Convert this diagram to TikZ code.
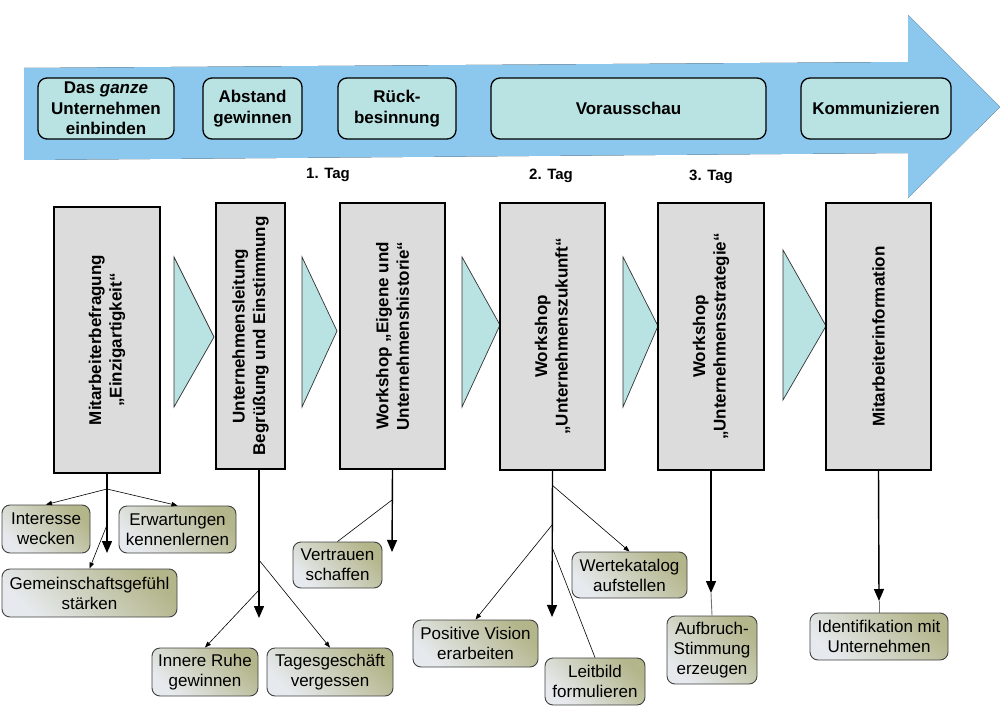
\documentclass[tikz,border=0pt]{standalone}
\usepackage{fontspec}
\setmainfont{Liberation Sans}
\usetikzlibrary{arrows.meta}
\definecolor{arrowblue}{HTML}{8CC8EE}
\definecolor{arrowlight}{HTML}{C0E4E9}
\definecolor{phasecyan}{HTML}{B9E2E2}
\definecolor{stepgray}{HTML}{DCDCDC}
\definecolor{goalolive}{HTML}{B3B58A}
\definecolor{goallight}{HTML}{E6EAEE}

\begin{document}
\begin{tikzpicture}[x=1pt, y=-1pt,
		phase/.style={draw=black, line width=1.3pt, fill=phasecyan, rounded corners=9pt, align=center, inner sep=0pt, font=\fontsize{17}{20.5}\selectfont\bfseries},
		stepbox/.style={draw=black, line width=1.3pt, fill=stepgray, inner sep=0pt},
		steptext/.style={rotate=90, align=center, inner sep=0pt, font=\fontsize{17}{20.5}\selectfont\bfseries},
		goal/.style={draw=black!75, line width=0.9pt, top color=goalolive, bottom color=goallight, shading angle=-45, rounded corners=8pt, align=center, inner sep=0pt, font=\fontsize{17}{20}\selectfont},
		day/.style={font=\fontsize{15}{18}\selectfont\bfseries},
		chevron/.style={draw=black!80, line width=0.7pt, fill=phasecyan},
		mainarrow/.style={line width=1.4pt, -{Triangle[length=12pt, width=10pt]}},
		branch/.style={line width=0.6pt, -{Triangle[length=6pt, width=4.5pt]}},
		link/.style={line width=0.6pt},
		stub/.style={line width=0.9pt, draw=black!55}]
		\useasboundingbox (0,0) rectangle (1000,719);
		\fill[top color=arrowblue, middle color=arrowlight, bottom color=arrowblue] (24,68) -- (908,62) -- (908,15) -- (1000,107) -- (908,198) -- (908,153) -- (24,160) -- cycle;
		\node[phase, minimum width=136, minimum height=61] (p1) at (106,108.5) {Das \textit{ganze}\\Unternehmen\\einbinden};
		\node[phase, minimum width=99, minimum height=61] (p2) at (252.5,108.5) {Abstand\\gewinnen};
		\node[phase, minimum width=118, minimum height=61] (p3) at (397,108.5) {Rück-\\besinnung};
		\node[phase, minimum width=275, minimum height=61] (p4) at (628.5,108.5) {Vorausschau};
		\node[phase, minimum width=150, minimum height=61] (p5) at (876,108.5) {Kommunizieren};
		\node[day] (d1) at (328,175) {1. Tag};
		\node[day] (d2) at (551,176) {2. Tag};
		\node[day] (d3) at (711,177) {3. Tag};
		\draw[chevron] (174,257) -- (214,337) -- (174,407) -- cycle;
		\draw[chevron] (302,257) -- (337,331) -- (302,407) -- cycle;
		\draw[chevron] (462,257) -- (500,325) -- (462,407) -- cycle;
		\draw[chevron] (623,257) -- (658,326) -- (623,407) -- cycle;
		\draw[chevron] (783,250) -- (826,326) -- (783,400) -- cycle;
		\node[stepbox, minimum width=106, minimum height=266] (s1) at (107,340) {};
		\node[stepbox, minimum width=69, minimum height=266] (s2) at (250.5,336) {};
		\node[stepbox, minimum width=105, minimum height=266] (s3) at (392.5,336) {};
		\node[stepbox, minimum width=105, minimum height=267] (s4) at (552.5,336.5) {};
		\node[stepbox, minimum width=106, minimum height=267] (s5) at (711,336.5) {};
		\node[stepbox, minimum width=105, minimum height=267] (s6) at (878.5,336.5) {};
		\node[steptext] (t1) at (s1.center) {Mitarbeiterbefragung\\„Einzigartigkeit“};
		\node[steptext] (t2) at (s2.center) {Unternehmensleitung\\Begrüßung und Einstimmung};
		\node[steptext] (t3) at (s3.center) {Workshop „Eigene und\\Unternehmenshistorie“};
		\node[steptext] (t4) at (s4.center) {Workshop\\„Unternehmenszukunft“};
		\node[steptext] (t5) at (s5.center) {Workshop\\„Unternehmensstrategie“};
		\node[steptext] (t6) at (s6.center) {Mitarbeiterinformation};
		\node[goal, minimum width=88, minimum height=48] (g1) at (46,529) {Interesse\\wecken};
		\node[goal, minimum width=117, minimum height=47] (g2) at (177.5,529.5) {Erwartungen\\kennenlernen};
		\node[goal, minimum width=175, minimum height=48] (g3) at (89.5,593) {Gemeinschaftsgefühl\\stärken};
		\node[goal, minimum width=106, minimum height=48] (g4) at (205,672) {Innere Ruhe\\gewinnen};
		\node[goal, minimum width=126, minimum height=48] (g5) at (330,672) {Tagesgeschäft\\vergessen};
		\node[goal, minimum width=89, minimum height=46] (g6) at (337.5,565) {Vertrauen\\schaffen};
		\node[goal, minimum width=125, minimum height=47] (g7) at (475.5,643.5) {Positive Vision\\erarbeiten};
		\node[goal, minimum width=100, minimum height=47] (g8) at (595,681.5) {Leitbild\\formulieren};
		\node[goal, minimum width=115, minimum height=46] (g9) at (629.5,575) {Wertekatalog\\aufstellen};
		\node[goal, minimum width=90, minimum height=68] (g10) at (712,650) {Aufbruch-\\Stimmung\\erzeugen};
		\node[goal, minimum width=138, minimum height=47] (g11) at (879,636.5) {Identifikation mit\\Unternehmen};
		\coordinate (e1) at (107,553);
		\coordinate (e2) at (259,618);
		\coordinate (e3) at (392,552);
		\coordinate (e4) at (552,617);
		\coordinate (e5) at (711,593);
		\coordinate (e6) at (879,601);
		\coordinate (j1) at (107,489);
		\coordinate (k1) at (107,525);
		\coordinate (j2) at (259,560);
		\coordinate (k2) at (259,590);
		\coordinate (j3) at (392,500);
		\coordinate (j4) at (552,485);
		\coordinate (k4) at (552,525);
		\coordinate (l4) at (552,547);
		\draw[mainarrow] (s1.south) -- (e1);
		\draw[mainarrow] (s2.south -| e2) -- (e2);
		\draw[mainarrow] (s3.south) -- (e3);
		\draw[mainarrow] (s4.south) -- (e4);
		\draw[mainarrow] (s5.south) -- (e5);
		\draw[mainarrow] (s6.south) -- (e6);
		\draw[branch] (j1) -- (g1.north);
		\draw[branch] (j1) -- (g2.north);
		\draw[branch] (k1) -- (g3.north);
		\draw[branch] (j2) -- (g5.north);
		\draw[branch] (k2) -- (g4.north);
		\draw[link] (j3) -- (g6.north);
		\draw[branch] (j4) -- (g9.north);
		\draw[branch] (k4) -- (g7.north);
		\draw[link] (l4) -- (g8.north);
		\draw[stub] (e5) -- (g10.north);
		\draw[stub] (e6) -- (g11.north);
	\end{tikzpicture}
\end{document}
